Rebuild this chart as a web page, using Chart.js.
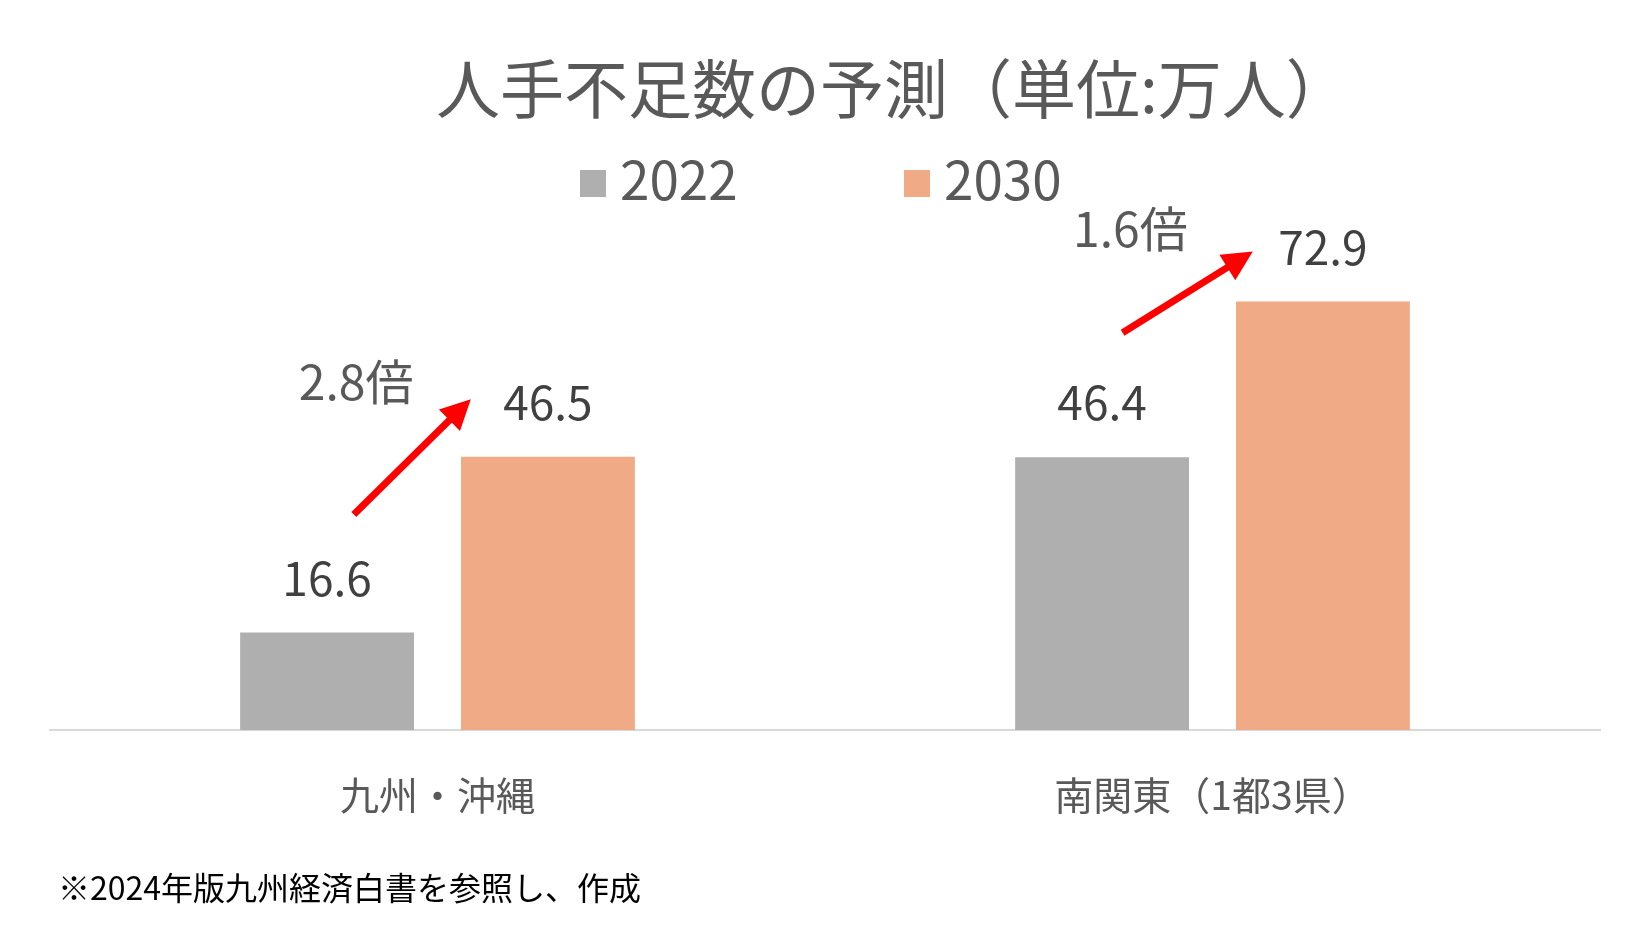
<!DOCTYPE html>
<html lang="ja">
<head>
<meta charset="utf-8">
<script src="https://cdn.jsdelivr.net/npm/chart.js@4.4.1/dist/chart.umd.min.js"></script>
<style>
  html, body { margin: 0; padding: 0; background: #ffffff; }
  #wrap { width: 1650px; height: 939px; position: relative; }
</style>
</head>
<body>
<div id="wrap"><canvas id="c"></canvas></div>
<script>
// ---- data ----
const categories = ['九州・沖縄', '南関東（1都3県）'];
const seriesNames = ['2022', '2030'];
const values2022 = [16.6, 46.4];
const values2030 = [46.5, 72.9];
const titleText = '人手不足数の予測（単位:万人）';
const noteText = '※2024年版九州経済白書を参照し、作成';

// ---- styling ----
const FONT = '"Noto Sans CJK JP", "Noto Sans", sans-serif';
const colors = ['#AFAFAF', '#F0AA85'];
const textGray = '#595959';
const labelGray = '#404040';

// arrow annotations (placement in category units / value units)
const arrowSpecs = [
  { cat: 0, x0: -0.108, y0: 36.7, x1: 0.043, y1: 56.3, lx: -0.105, ly: 56.2 },
  { cat: 1, x0: -0.116, y0: 67.6, x1: 0.052, y1: 81.4, lx: -0.106, ly: 82.2 }
];

const overlayPlugin = {
  id: 'overlay',
  afterDatasetsDraw(chart) {
    const ctx = chart.ctx;
    const xs = chart.scales.x, ys = chart.scales.y;
    ctx.save();
    // value labels
    ctx.font = '46px ' + FONT;
    ctx.fillStyle = labelGray;
    ctx.textAlign = 'center';
    ctx.textBaseline = 'alphabetic';
    chart.data.datasets.forEach((ds, di) => {
      chart.getDatasetMeta(di).data.forEach((el, i) => {
        ctx.fillText(ds.data[i].toFixed(1), el.x, el.y - 37);
      });
    });
    // arrows + ratio labels
    const catW = xs.width / categories.length;
    arrowSpecs.forEach(a => {
      const cx = xs.getPixelForValue(a.cat);
      const x0 = cx + a.x0 * catW, y0 = ys.getPixelForValue(a.y0);
      const x1 = cx + a.x1 * catW, y1 = ys.getPixelForValue(a.y1);
      const ang = Math.atan2(y1 - y0, x1 - x0);
      const headL = 30, headW = 15;
      const bx = x1 - headL * Math.cos(ang), by = y1 - headL * Math.sin(ang);
      ctx.strokeStyle = '#FF0000';
      ctx.lineWidth = 7;
      ctx.lineCap = 'butt';
      ctx.beginPath();
      ctx.moveTo(x0, y0);
      ctx.lineTo(bx + 2 * Math.cos(ang), by + 2 * Math.sin(ang));
      ctx.stroke();
      ctx.fillStyle = '#FF0000';
      ctx.beginPath();
      ctx.moveTo(x1, y1);
      ctx.lineTo(bx + headW * Math.sin(ang), by - headW * Math.cos(ang));
      ctx.lineTo(bx - headW * Math.sin(ang), by + headW * Math.cos(ang));
      ctx.closePath();
      ctx.fill();
      const ratio = (values2030[a.cat] / values2022[a.cat]).toFixed(1) + '倍';
      ctx.font = '48px ' + FONT;
      ctx.fillStyle = textGray;
      ctx.textAlign = 'center';
      ctx.textBaseline = 'alphabetic';
      ctx.fillText(ratio, cx + a.lx * catW, ys.getPixelForValue(a.ly));
    });
    ctx.restore();
  },
  afterDraw(chart) {
    const ctx = chart.ctx;
    ctx.save();
    // title
    ctx.font = '64px ' + FONT;
    ctx.fillStyle = textGray;
    ctx.textAlign = 'left';
    ctx.textBaseline = 'middle';
    ctx.fillText(titleText, 436, 89);
    // legend
    const legendX = [580, 904];
    ctx.font = '53px ' + FONT;
    chart.data.datasets.forEach((ds, i) => {
      ctx.fillStyle = ds.backgroundColor;
      ctx.fillRect(legendX[i], 170, 26, 27);
      ctx.fillStyle = textGray;
      ctx.textAlign = 'left';
      ctx.textBaseline = 'alphabetic';
      ctx.fillText(ds.label, legendX[i] + 40, 200);
    });
    // footnote
    ctx.font = '32px ' + FONT;
    ctx.fillStyle = '#000000';
    ctx.textAlign = 'left';
    ctx.textBaseline = 'middle';
    ctx.fillText(noteText, 58, 888);
    ctx.restore();
  }
};

new Chart(document.getElementById('c'), {
  type: 'bar',
  data: {
    labels: categories,
    datasets: [
      { label: seriesNames[0], data: values2022, backgroundColor: colors[0] },
      { label: seriesNames[1], data: values2030, backgroundColor: colors[1] }
    ]
  },
  options: {
    responsive: true,
    maintainAspectRatio: false,
    animation: false,
    datasets: { bar: { categoryPercentage: 0.57, barPercentage: 0.787 } },
    layout: { padding: { top: 201, bottom: 78, left: 50, right: 50 } },
    plugins: {
      legend: { display: false },
      title: { display: false },
      tooltip: { enabled: false }
    },
    scales: {
      x: {
        grid: { display: false, drawTicks: false },
        border: { display: true, color: '#D9D9D9', width: 2 },
        ticks: { color: textGray, font: { family: FONT, size: 39 }, padding: 42 }
      },
      y: {
        display: false,
        min: 0,
        max: 90
      }
    }
  },
  plugins: [overlayPlugin]
});
</script>
</body>
</html>
